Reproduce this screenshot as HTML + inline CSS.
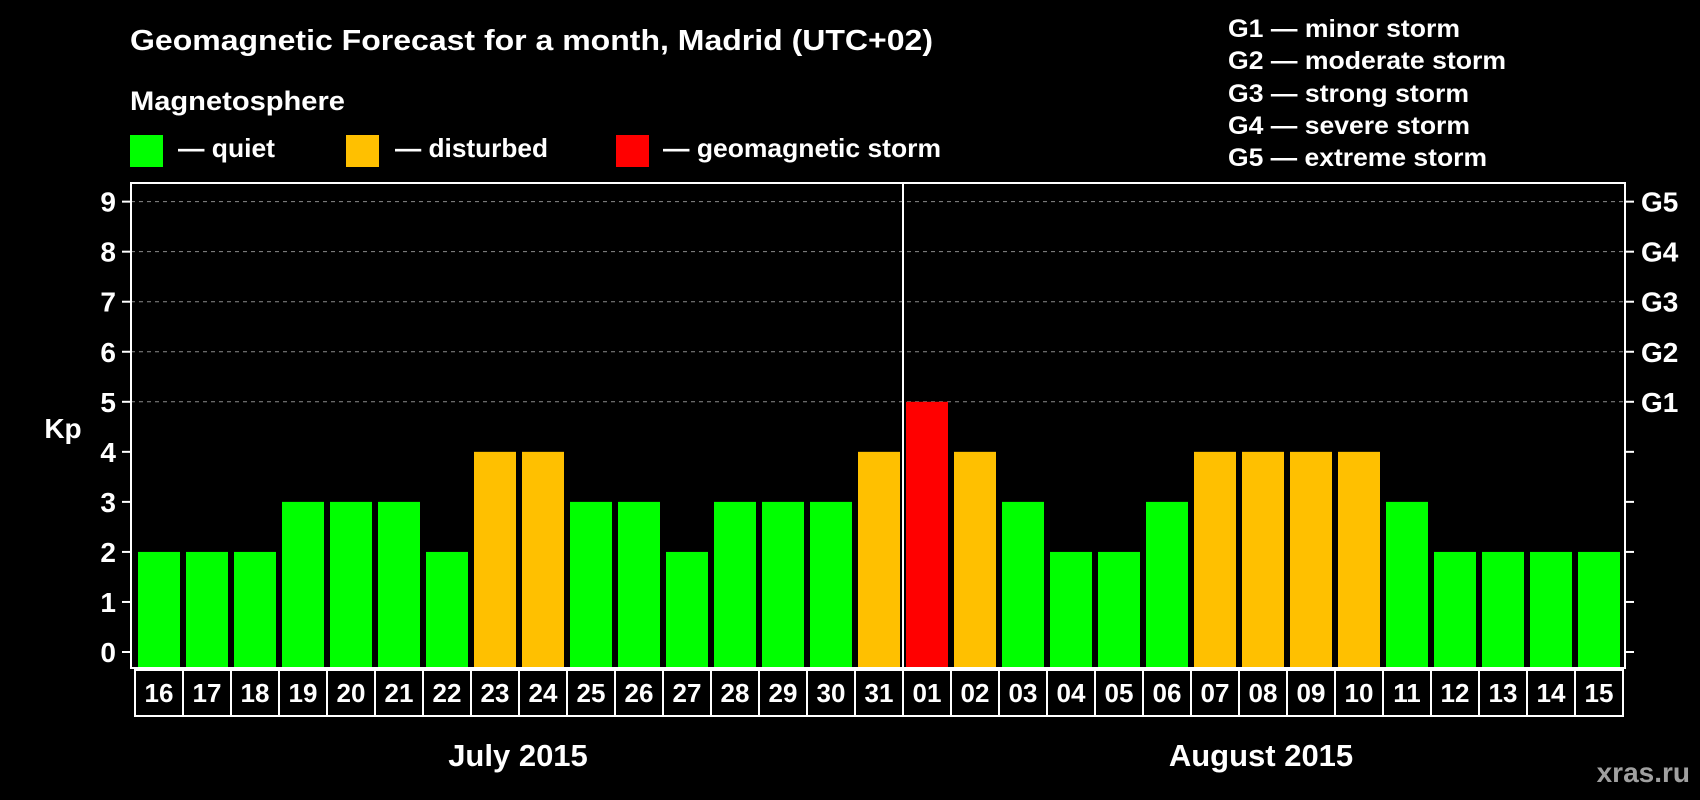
<!DOCTYPE html>
<html><head><meta charset="utf-8"><style>
html,body{margin:0;padding:0;background:#000;}
svg{display:block;font-family:"Liberation Sans",Arial,sans-serif;font-weight:bold;}
</style></head><body>
<svg id="chart" width="1700" height="800" viewBox="0 0 1700 800" xmlns="http://www.w3.org/2000/svg">
<rect width="1700" height="800" fill="#000"/>
<text x="130" y="50" fill="#fff" font-size="29" textLength="803" lengthAdjust="spacingAndGlyphs">Geomagnetic Forecast for a month, Madrid (UTC+02)</text>
<text x="130" y="110" fill="#fff" font-size="27" textLength="215" lengthAdjust="spacingAndGlyphs">Magnetosphere</text>
<rect x="130" y="135" width="33" height="32" fill="#00ff00"/>
<text x="178" y="157" fill="#fff" font-size="26" textLength="97" lengthAdjust="spacingAndGlyphs">— quiet</text>
<rect x="346" y="135" width="33" height="32" fill="#ffc000"/>
<text x="395" y="157" fill="#fff" font-size="26" textLength="153" lengthAdjust="spacingAndGlyphs">— disturbed</text>
<rect x="616" y="135" width="33" height="32" fill="#ff0000"/>
<text x="663" y="157" fill="#fff" font-size="26" textLength="278" lengthAdjust="spacingAndGlyphs">— geomagnetic storm</text>
<text x="1228" y="37" fill="#fff" font-size="25" textLength="232" lengthAdjust="spacingAndGlyphs">G1 — minor storm</text>
<text x="1228" y="69" fill="#fff" font-size="25" textLength="278" lengthAdjust="spacingAndGlyphs">G2 — moderate storm</text>
<text x="1228" y="102" fill="#fff" font-size="25" textLength="241" lengthAdjust="spacingAndGlyphs">G3 — strong storm</text>
<text x="1228" y="134" fill="#fff" font-size="25" textLength="242" lengthAdjust="spacingAndGlyphs">G4 — severe storm</text>
<text x="1228" y="166" fill="#fff" font-size="25" textLength="259" lengthAdjust="spacingAndGlyphs">G5 — extreme storm</text>
<text x="63" y="438" fill="#fff" font-size="28" text-anchor="middle">Kp</text>
<text x="518" y="766" fill="#fff" font-size="31" text-anchor="middle">July 2015</text>
<text x="1261" y="766" fill="#fff" font-size="31" text-anchor="middle">August 2015</text>
<text x="1690" y="782" fill="#a0a0a0" font-size="28" text-anchor="end">xras.ru</text>
<g id="plot"></g>
</svg>
<script>
const days = ["16","17","18","19","20","21","22","23","24","25","26","27","28","29","30","31","01","02","03","04","05","06","07","08","09","10","11","12","13","14","15"];
const kpValues = [2,2,2,3,3,3,2,4,4,3,3,2,3,3,3,4,5,4,3,2,2,3,4,4,4,4,3,2,2,2,2];
const yTicks = [0,1,2,3,4,5,6,7,8,9];
const gLevels = [5,6,7,8,9];
const gLabels = ["G1","G2","G3","G4","G5"];
const monthBreakIndex = 16;

const NS = "http://www.w3.org/2000/svg";
const g = document.getElementById('plot');
const L = 131, R = 1625, T = 183, B = 668;
const y0 = 652, unit = 50.04;
const pitch = (R - L - 6) / days.length;
const xLeft = i => 135 + i * pitch;
const yScale = v => y0 - v * unit;
function mk(tag, attrs) { const e = document.createElementNS(NS, tag); for (const k in attrs) e.setAttribute(k, attrs[k]); g.appendChild(e); return e; }

gLevels.forEach((v, i) => {
  const l = mk('line', {x1: L, x2: R, y1: yScale(v), y2: yScale(v), stroke: '#8a8a8a', 'stroke-width': 1, 'stroke-dasharray': '4,4'});
  
  
  const t = mk('text', {x: 1641, y: yScale(v) + 10, fill: '#fff', 'font-size': 28});
  t.textContent = gLabels[i];
  
  
});
yTicks.forEach(v => {
  const y = yScale(v);
  const a = mk('line', {x1: 122, x2: L, y1: y, y2: y, stroke: '#fff', 'stroke-width': 2});
  
  
  const b = mk('line', {x1: R, x2: 1634, y1: y, y2: y, stroke: '#fff', 'stroke-width': 2});
  
  
  const t = mk('text', {x: 116, y: y + 10, fill: '#fff', 'font-size': 28, 'text-anchor': 'end'});
  t.textContent = v;
  
  
});
kpValues.forEach((v, i) => {
  const color = v >= 5 ? '#ff0000' : (v >= 4 ? '#ffc000' : '#00ff00');
  const top = yScale(v);
  const r = mk('rect', {x: xLeft(i) + 3, y: top, width: pitch - 6, height: B - top, fill: color});
  
  
  const box = mk('rect', {x: xLeft(i), y: 670, width: pitch, height: 46, fill: 'none', stroke: '#fff', 'stroke-width': 2});
  
  
  const t = mk('text', {x: xLeft(i) + pitch / 2, y: 702, fill: '#fff', 'font-size': 26, 'text-anchor': 'middle'});
  t.textContent = days[i];
  
  
});
const f = mk('rect', {x: L, y: T, width: R - L, height: B - T, fill: 'none', stroke: '#fff', 'stroke-width': 2});


const dx = xLeft(monthBreakIndex);
const d = mk('line', {x1: dx, x2: dx, y1: T, y2: B, stroke: '#fff', 'stroke-width': 2});


</script>
</body></html>
